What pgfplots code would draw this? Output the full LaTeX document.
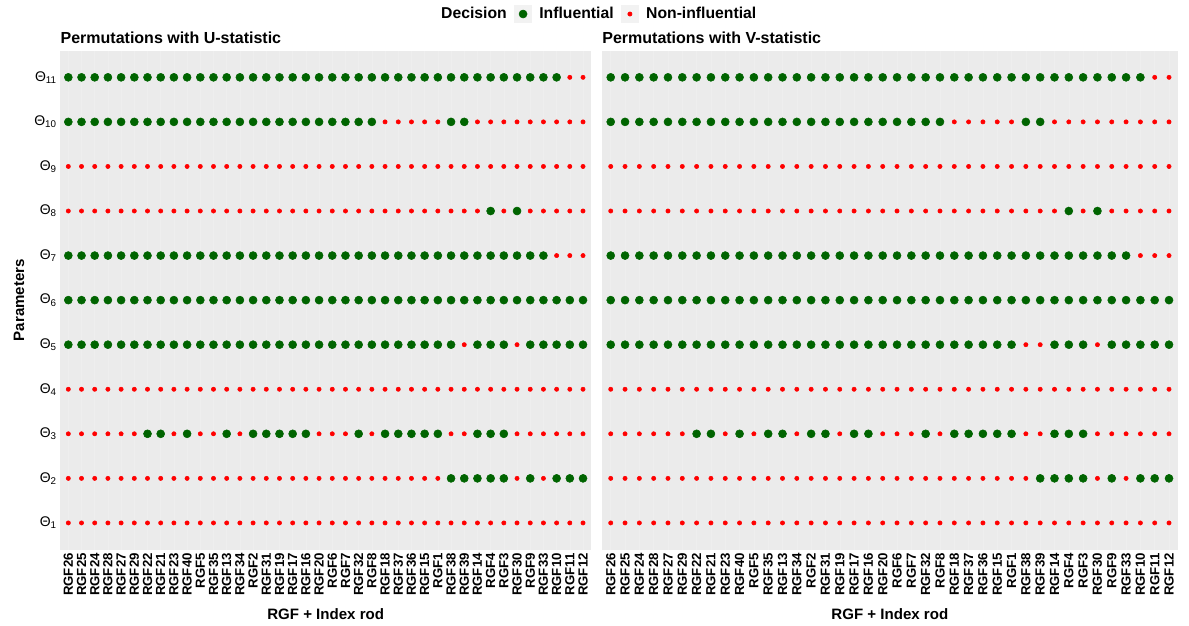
\documentclass[border=0pt]{standalone}
\usepackage{fontspec}
\setmainfont{Liberation Sans}
\usepackage{pgfplots}
\usepackage{pgfplotstable}
\pgfplotsset{compat=1.18}

\definecolor{infgreen}{HTML}{006400}
\definecolor{nonred}{HTML}{FF0000}
\definecolor{panelgrey}{HTML}{EBEBEB}
\definecolor{gridgrey}{HTML}{EEEEEE}
\definecolor{keygrey}{HTML}{F2F2F2}

% decision per rod (row) and parameter Theta_1..Theta_11 (columns), 1 = influential
\pgfplotstableread{
x  t1 t2 t3 t4 t5 t6 t7 t8 t9 t10 t11
0  0 0 0 0 1 1 1 0 0 1 1
1  0 0 0 0 1 1 1 0 0 1 1
2  0 0 0 0 1 1 1 0 0 1 1
3  0 0 0 0 1 1 1 0 0 1 1
4  0 0 0 0 1 1 1 0 0 1 1
5  0 0 0 0 1 1 1 0 0 1 1
6  0 0 1 0 1 1 1 0 0 1 1
7  0 0 1 0 1 1 1 0 0 1 1
8  0 0 0 0 1 1 1 0 0 1 1
9  0 0 1 0 1 1 1 0 0 1 1
10 0 0 0 0 1 1 1 0 0 1 1
11 0 0 0 0 1 1 1 0 0 1 1
12 0 0 1 0 1 1 1 0 0 1 1
13 0 0 0 0 1 1 1 0 0 1 1
14 0 0 1 0 1 1 1 0 0 1 1
15 0 0 1 0 1 1 1 0 0 1 1
16 0 0 1 0 1 1 1 0 0 1 1
17 0 0 1 0 1 1 1 0 0 1 1
18 0 0 1 0 1 1 1 0 0 1 1
19 0 0 0 0 1 1 1 0 0 1 1
20 0 0 0 0 1 1 1 0 0 1 1
21 0 0 0 0 1 1 1 0 0 1 1
22 0 0 1 0 1 1 1 0 0 1 1
23 0 0 0 0 1 1 1 0 0 1 1
24 0 0 1 0 1 1 1 0 0 0 1
25 0 0 1 0 1 1 1 0 0 0 1
26 0 0 1 0 1 1 1 0 0 0 1
27 0 0 1 0 1 1 1 0 0 0 1
28 0 0 1 0 1 1 1 0 0 0 1
29 0 1 0 0 1 1 1 0 0 1 1
30 0 1 0 0 0 1 1 0 0 1 1
31 0 1 1 0 1 1 1 0 0 0 1
32 0 1 1 0 1 1 1 1 0 0 1
33 0 1 1 0 1 1 1 0 0 0 1
34 0 0 0 0 0 1 1 1 0 0 1
35 0 1 0 0 1 1 1 0 0 0 1
36 0 0 0 0 1 1 1 0 0 0 1
37 0 1 0 0 1 1 0 0 0 0 1
38 0 1 0 0 1 1 0 0 0 0 0
39 0 1 0 0 1 1 0 0 0 0 0
}\tabU

\pgfplotstableread{
x  t1 t2 t3 t4 t5 t6 t7 t8 t9 t10 t11
0  0 0 0 0 1 1 1 0 0 1 1
1  0 0 0 0 1 1 1 0 0 1 1
2  0 0 0 0 1 1 1 0 0 1 1
3  0 0 0 0 1 1 1 0 0 1 1
4  0 0 0 0 1 1 1 0 0 1 1
5  0 0 0 0 1 1 1 0 0 1 1
6  0 0 1 0 1 1 1 0 0 1 1
7  0 0 1 0 1 1 1 0 0 1 1
8  0 0 0 0 1 1 1 0 0 1 1
9  0 0 1 0 1 1 1 0 0 1 1
10 0 0 0 0 1 1 1 0 0 1 1
11 0 0 1 0 1 1 1 0 0 1 1
12 0 0 1 0 1 1 1 0 0 1 1
13 0 0 0 0 1 1 1 0 0 1 1
14 0 0 1 0 1 1 1 0 0 1 1
15 0 0 1 0 1 1 1 0 0 1 1
16 0 0 0 0 1 1 1 0 0 1 1
17 0 0 1 0 1 1 1 0 0 1 1
18 0 0 1 0 1 1 1 0 0 1 1
19 0 0 0 0 1 1 1 0 0 1 1
20 0 0 0 0 1 1 1 0 0 1 1
21 0 0 0 0 1 1 1 0 0 1 1
22 0 0 1 0 1 1 1 0 0 1 1
23 0 0 0 0 1 1 1 0 0 1 1
24 0 0 1 0 1 1 1 0 0 0 1
25 0 0 1 0 1 1 1 0 0 0 1
26 0 0 1 0 1 1 1 0 0 0 1
27 0 0 1 0 1 1 1 0 0 0 1
28 0 0 1 0 1 1 1 0 0 0 1
29 0 0 0 0 0 1 1 0 0 1 1
30 0 1 0 0 0 1 1 0 0 1 1
31 0 1 1 0 1 1 1 0 0 0 1
32 0 1 1 0 1 1 1 1 0 0 1
33 0 1 1 0 1 1 1 0 0 0 1
34 0 0 0 0 0 1 1 1 0 0 1
35 0 1 0 0 1 1 1 0 0 0 1
36 0 0 0 0 1 1 1 0 0 0 1
37 0 1 0 0 1 1 0 0 0 0 1
38 0 1 0 0 1 1 0 0 0 0 0
39 0 1 0 0 1 1 0 0 0 0 0
}\tabV

\pgfplotsset{
  panel/.style={
    scale only axis, height=374.3pt,
    xmin=-0.6, xmax=39.6, ymin=0.4, ymax=11.6,
    axis background/.style={fill=panelgrey},
    axis line style={draw=none},
    major tick length=0pt,
    xmajorgrids, major grid style={gridgrey, line width=0.4pt},
    xtick={0,...,39},
    xticklabels={RGF26,RGF25,RGF24,RGF28,RGF27,RGF29,RGF22,RGF21,RGF23,RGF40,
      RGF5,RGF35,RGF13,RGF34,RGF2,RGF31,RGF19,RGF17,RGF16,RGF20,
      RGF6,RGF7,RGF32,RGF8,RGF18,RGF37,RGF36,RGF15,RGF1,RGF38,
      RGF39,RGF14,RGF4,RGF3,RGF30,RGF9,RGF33,RGF10,RGF11,RGF12},
    xticklabel style={rotate=90, anchor=east, inner sep=0pt,
      font=\fontsize{9.9}{10}\selectfont\bfseries},
    xticklabel shift=2.5pt,
    ytick={1,...,11},
    yticklabel style={anchor=east, inner sep=0pt,
      font=\fontsize{10.5}{12}\selectfont},
    yticklabel shift=2.5pt,
    xlabel={RGF + Index rod},
    xlabel style={at={(axis description cs:0.5,-0.1298)}, anchor=center,
      font=\fontsize{11.3}{13}\selectfont\bfseries},
    every axis title shift=0pt,
    title style={at={(axis description cs:0,1.0152)}, anchor=base west,
      inner sep=0pt, font=\fontsize{12}{14}\selectfont\bfseries},
  },
  decision/.style={
    forget plot, only marks, scatter, point meta=explicit symbolic,
    scatter/classes={
      0={mark=*, mark size=1.6pt, nonred},
      1={mark=*, mark size=3pt, infgreen}},
  },
}

\begin{document}
\begin{tikzpicture}
\path[use as bounding box] (0,0) rectangle (891.75pt,468.75pt);

\begin{axis}[panel, at={(45.3pt,56.5pt)}, anchor=south west, width=397.9pt,
  title={Permutations with U-statistic},
  yticklabels={Θ\textsubscript{1},Θ\textsubscript{2},Θ\textsubscript{3},Θ\textsubscript{4},
    Θ\textsubscript{5},Θ\textsubscript{6},Θ\textsubscript{7},Θ\textsubscript{8},
    Θ\textsubscript{9},Θ\textsubscript{10},Θ\textsubscript{11}},
  ylabel={Parameters},
  ylabel style={at={(axis description cs:-0.078,0.5)}, rotate=0, anchor=center,
    font=\fontsize{11.3}{13}\selectfont\bfseries},
  legend columns=-1,
  legend style={at={(1.0077,1.0733)}, anchor=center, draw=none, fill=none,
    font=\fontsize{11.8}{14}\selectfont\bfseries,
    nodes={inner sep=0pt},
    /tikz/every even column/.append style={column sep=5.6pt},
    /tikz/every odd column/.append style={column sep=5.6pt}},
]
\pgfplotsinvokeforeach{1,...,11}{
  \addplot[decision] table[x=x, y expr=#1, meta=t#1] {\tabU};
}
\addlegendimage{empty legend}
\addlegendentry{Decision}
\addlegendimage{legend image code/.code={
  \fill[keygrey] (-6.4pt,-6.4pt) rectangle (6.4pt,6.4pt);
  \fill[infgreen] (0,0) circle (3pt);}}
\addlegendentry{Influential}
\addlegendimage{legend image code/.code={
  \fill[keygrey] (-6.4pt,-6.4pt) rectangle (6.4pt,6.4pt);
  \fill[nonred] (0,0) circle (1.6pt);}}
\addlegendentry{Non-influential}
\end{axis}

\begin{axis}[panel, at={(451.6pt,56.5pt)}, anchor=south west, width=431.6pt,
  title={Permutations with V-statistic},
  yticklabels={},
]
\pgfplotsinvokeforeach{1,...,11}{
  \addplot[decision] table[x=x, y expr=#1, meta=t#1] {\tabV};
}
\end{axis}
\end{tikzpicture}
\end{document}
